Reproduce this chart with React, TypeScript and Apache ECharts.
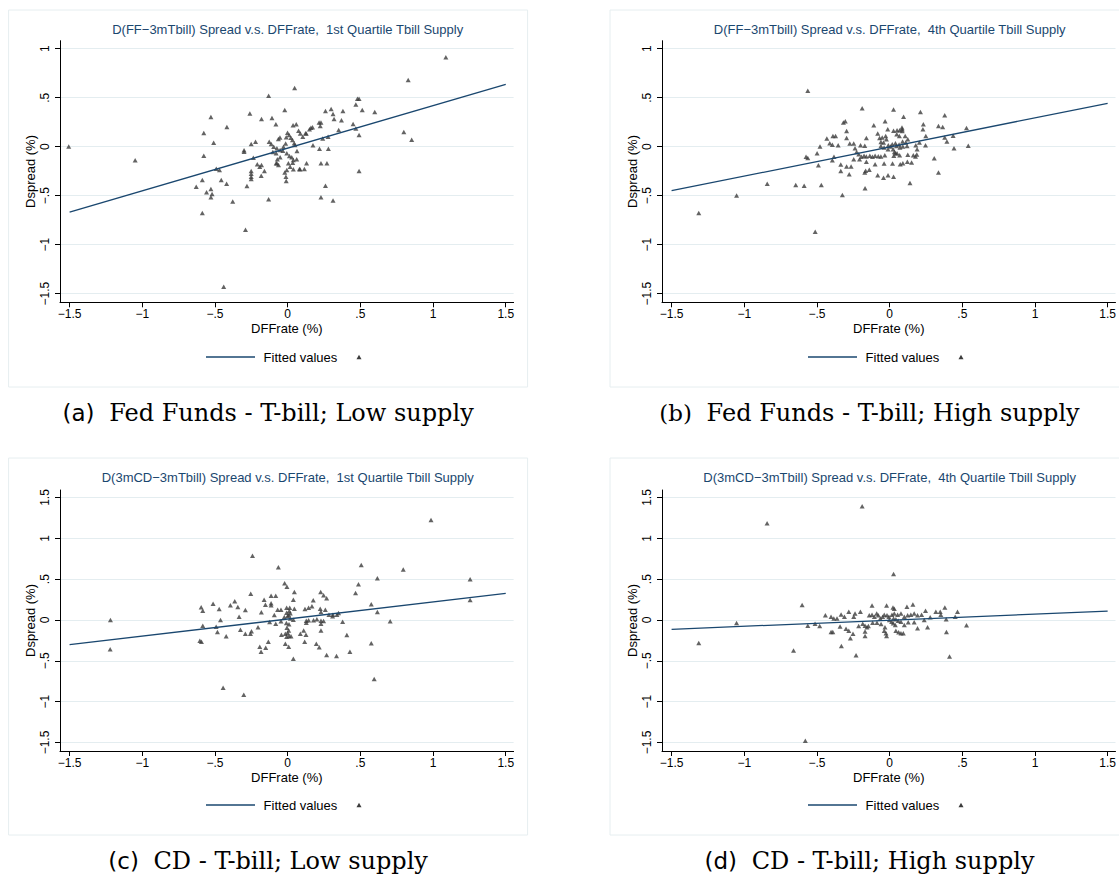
import React, { useEffect, useRef } from "react";
import * as echarts from "echarts";

// Tick positions shared by the four panels
const xTicks = [-1.5, -1, -0.5, 0, 0.5, 1, 1.5];
const yTicksFF = [-1.5, -1, -0.5, 0, 0.5, 1];
const yTicksCD = [-1.5, -1, -0.5, 0, 0.5, 1, 1.5];

const xAxisTitle = "DFFrate (%)";
const yAxisTitle = "Dspread (%)";
const legendLabel = "Fitted values";

const titles = [
  "D(FF\u22123mTbill) Spread v.s. DFFrate,  1st Quartile Tbill Supply",
  "D(FF\u22123mTbill) Spread v.s. DFFrate,  4th Quartile Tbill Supply",
  "D(3mCD\u22123mTbill) Spread v.s. DFFrate,  1st Quartile Tbill Supply",
  "D(3mCD\u22123mTbill) Spread v.s. DFFrate,  4th Quartile Tbill Supply",
];
const captionTags = ["(a)", "(b)", "(c)", "(d)"];
const captionTexts = [
  "Fed Funds - T-bill; Low supply",
  "Fed Funds - T-bill; High supply",
  "CD - T-bill; Low supply",
  "CD - T-bill; High supply",
];

// (a) Fed Funds - T-bill spread changes, low T-bill supply
const ffLowPoints: number[][] = [
  [1.088, 0.912], [0.829, 0.68], [0.048, 0.599], [-0.131, 0.52], [0.48, 0.49], [0.491, 0.49],
  [0.469, 0.432], [0.513, 0.374], [0.599, 0.354], [0.299, 0.384], [0.26, 0.364], [0.312, 0.333],
  [0.38, 0.364], [-0.02, 0.374], [-0.26, 0.34], [-0.528, 0.303], [-0.108, 0.293], [-0.18, 0.282],
  [0.319, 0.282], [0.37, 0.269], [-0.081, 0.228], [0.037, 0.218], [0.059, 0.228], [0.216, 0.248],
  [0.229, 0.248], [0.45, 0.231], [-0.418, 0.201], [0.224, 0.211], [0.16, 0.194], [0.15, 0.177],
  [0.469, 0.187], [0.351, 0.17], [-0.577, 0.139], [0.799, 0.15], [0.491, 0.119], [0.278, 0.102],
  [0.241, 0.085], [0.853, 0.071], [-0.509, 0.041], [-0.221, 0.051], [-0.251, 0.027], [-1.506, 0.003],
  [-0.3, -0.037], [-0.3, -0.051], [-0.577, -0.092], [-0.236, -0.112], [-1.049, -0.139], [0.28, -0.02],
  [0.219, -0.02], [0.174, 0.014], [-0.491, -0.224], [-0.469, -0.238], [-0.251, -0.248], [-0.251, -0.276],
  [-0.251, -0.306], [-0.251, -0.33], [-0.209, -0.18], [-0.192, -0.204], [-0.16, -0.248], [-0.18, -0.187],
  [-0.182, -0.296], [-0.079, -0.17], [-0.071, -0.129], [0.229, -0.17], [0.27, -0.17], [0.13, -0.17],
  [0.081, -0.228], [0.115, -0.228], [0.491, -0.248], [-0.457, -0.34], [-0.42, -0.378], [-0.587, -0.34],
  [-0.629, -0.408], [-0.28, -0.401], [0.26, -0.398], [-0.558, -0.466], [-0.528, -0.432], [-0.52, -0.483],
  [-0.528, -0.517], [-0.378, -0.558], [-0.131, -0.537], [0.229, -0.517], [0.312, -0.548], [-0.587, -0.677],
  [-0.29, -0.847], [-0.44, -1.429], [-0.012, -0.306], [-0.01, -0.35], [-0.02, -0.262],
  [-0.001, 0.143], [0.01, 0.119], [0.022, 0.092], [-0.01, 0.096], [0.033, 0.068], [0.045, 0.035],
  [0.104, 0.102], [0.123, 0.137], [0.171, 0.198], [-0.127, 0.051], [-0.113, 0.028], [-0.096, 0.0],
  [-0.074, -0.016], [-0.052, -0.034], [-0.029, 0.0], [-0.033, -0.041], [-0.079, -0.067], [-0.102, -0.054],
  [-0.006, -0.067], [0.012, -0.095], [0.028, -0.108], [0.039, -0.136], [0.062, -0.129], [0.035, -0.163],
  [0.005, -0.17], [0.017, -0.204], [0.039, -0.231], [-0.006, -0.238], [-0.052, -0.108], [-0.074, -0.17],
  [-0.063, -0.187], [0.085, -0.231], [0.075, 0.163], [0.087, 0.136], [0.128, 0.136], [-0.053, 0.095],
  [-0.064, 0.078], [-0.014, 0.034], [0.05, 0.017], [0.064, -0.044],
];
const ffLowFit = [[-1.5, -0.667], [1.5, 0.637]];

// (b) Fed Funds - T-bill spread changes, high T-bill supply
const ffHighPoints: number[][] = [
  [-0.563, 0.571], [0.529, 0.19], [0.541, 0.01], [-0.842, -0.378], [-1.053, -0.497], [-1.313, -0.677],
  [-0.512, -0.867], [-0.189, 0.392], [0.027, 0.381], [0.212, 0.354], [0.379, 0.32], [0.096, 0.307],
  [-0.031, 0.259], [-0.318, 0.246], [-0.305, 0.259], [-0.109, 0.219], [0.232, 0.229], [0.336, 0.212],
  [0.365, 0.202], [-0.296, 0.161], [-0.39, 0.11], [-0.372, 0.11], [-0.013, 0.178], [0.027, 0.164],
  [0.051, 0.168], [0.069, 0.168], [0.085, 0.195], [0.087, 0.178], [0.087, 0.161], [0.229, 0.178],
  [0.249, 0.11], [0.437, 0.113], [-0.082, 0.134], [-0.069, 0.09], [-0.051, 0.093], [-0.027, 0.11],
  [-0.432, 0.083], [-0.296, 0.09], [0.049, 0.127], [0.067, 0.11], [0.107, 0.11], [0.125, 0.076],
  [-0.16, 0.09], [-0.412, 0.036], [-0.394, 0.019], [-0.354, 0.015], [-0.274, 0.032], [-0.247, 0.032],
  [-0.479, 0.002], [-0.2, 0.015], [-0.171, 0.009], [-0.238, -0.015],
  [-0.06, 0.049], [-0.042, 0.042], [-0.022, 0.076], [-0.009, 0.015], [0.018, 0.025], [0.04, 0.036],
  [0.065, 0.022], [0.089, 0.053], [0.111, 0.042], [-0.06, 0.008], [-0.038, -0.008], [-0.011, -0.025],
  [0.007, 0.002], [0.024, -0.025], [0.047, 0.008], [0.071, -0.008], [0.091, 0.002], [0.12, 0.008],
  [0.18, 0.015], [0.189, -0.025], [0.205, 0.042], [0.247, 0.015], [0.379, 0.093], [0.394, 0.053],
  [0.443, -0.015], [-0.575, -0.103], [-0.563, -0.114], [-0.499, -0.066], [-0.383, -0.103],
  [-0.227, -0.053], [-0.212, -0.076], [-0.194, -0.103], [-0.176, -0.093], [-0.16, -0.1], [-0.136, -0.093],
  [-0.118, -0.103], [-0.1, -0.093], [-0.078, -0.097], [-0.06, -0.1], [-0.033, -0.086], [0.033, -0.053],
  [0.051, -0.066], [0.069, -0.086], [0.029, -0.093], [0.04, -0.066], [0.125, -0.083], [0.187, -0.08],
  [0.163, -0.086], [0.178, -0.1], [0.307, -0.117], [-0.49, -0.188], [-0.394, -0.137], [-0.247, -0.127],
  [-0.207, -0.127], [-0.16, -0.154], [-0.1, -0.178], [-0.038, -0.171], [0.02, -0.171], [0.073, -0.178],
  [0.091, -0.168], [0.122, -0.154], [0.151, -0.161], [-0.336, -0.181], [-0.296, -0.202], [-0.265, -0.202],
  [0.336, -0.263], [-0.336, -0.249], [-0.278, -0.28], [-0.171, -0.263], [-0.14, -0.236], [-0.165, -0.246],
  [-0.082, -0.29], [-0.042, -0.317], [-0.011, -0.29], [0.027, -0.307], [0.14, -0.371], [-0.646, -0.392],
  [-0.588, -0.398], [-0.47, -0.392], [-0.325, -0.494], [-0.169, -0.425],
];
const ffHighFit = [[-1.5, -0.449], [1.5, 0.443]];

// (c) CD - T-bill spread changes, low T-bill supply
const cdLowPoints: number[][] = [
  [0.986, 1.224], [0.795, 0.62], [1.255, 0.498], [0.617, 0.51], [0.575, 0.192], [1.255, 0.245],
  [0.617, 0.098], [0.705, -0.016], [-1.219, 0.0], [0.575, -0.286], [-1.221, -0.359], [0.595, -0.722],
  [-0.242, 0.788], [0.506, 0.673], [-0.064, 0.645], [-0.444, -0.829], [-0.302, -0.914],
  [-0.021, 0.449], [-0.005, 0.408], [0.487, 0.437], [0.046, 0.343], [-0.254, 0.322], [-0.114, 0.298],
  [-0.082, 0.298], [0.227, 0.343], [0.247, 0.302], [0.268, 0.265], [0.467, 0.331], [-0.513, 0.2],
  [-0.364, 0.229], [-0.595, 0.155], [-0.584, 0.114], [-0.394, 0.18], [-0.471, 0.135], [-0.343, 0.159],
  [-0.291, 0.122], [-0.162, 0.249], [-0.114, 0.204], [-0.114, 0.18], [-0.153, 0.188], [0.039, 0.249],
  [0.176, 0.241], [-0.181, 0.094], [-0.069, 0.127], [-0.046, 0.127], [-0.007, 0.151], [0.014, 0.151],
  [0.046, 0.139], [0.011, 0.11], [-0.007, 0.09], [0.018, 0.082], [0.0, 0.049], [0.007, 0.061],
  [0.119, 0.135], [0.144, 0.151], [0.167, 0.167], [0.224, 0.139], [0.259, 0.127], [0.229, 0.098],
  [-0.334, 0.041], [-0.462, 0.0], [-0.092, 0.061], [-0.023, 0.037], [0.018, 0.02], [0.039, 0.004],
  [0.128, -0.008], [0.144, -0.004], [0.178, -0.004], [0.128, -0.033], [0.201, 0.008], [0.229, -0.008],
  [0.247, -0.012], [0.229, -0.045], [0.284, 0.065], [0.311, 0.065], [0.309, 0.045], [0.339, 0.065],
  [0.35, 0.086], [0.378, -0.02], [-0.124, -0.024], [-0.082, -0.045], [-0.046, -0.016], [-0.584, -0.069],
  [-0.492, -0.082], [-0.009, -0.037], [0.009, -0.053], [-0.005, -0.094], [0.007, -0.127], [0.0, -0.159],
  [0.009, -0.196], [0.023, -0.2], [-0.007, -0.204], [-0.483, -0.147], [-0.423, -0.2], [-0.325, -0.118],
  [-0.291, -0.167], [-0.256, -0.167], [-0.249, -0.139], [-0.204, -0.09], [-0.043, -0.18], [-0.016, -0.167],
  [0.087, -0.167], [0.11, -0.127], [0.126, -0.18], [0.229, -0.127], [0.407, -0.184], [-0.604, -0.253],
  [-0.593, -0.265], [-0.133, -0.265], [-0.151, -0.339], [-0.192, -0.327], [-0.183, -0.388], [-0.016, -0.29],
  [0.007, -0.327], [0.117, -0.265], [0.197, -0.29], [0.217, -0.335], [0.039, -0.473], [0.268, -0.429],
  [0.336, -0.441], [0.428, -0.388],
];
const cdLowFit = [[-1.5, -0.302], [1.5, 0.326]];

// (d) CD - T-bill spread changes, high T-bill supply
const cdHighPoints: number[][] = [
  [-0.189, 1.392], [-0.843, 1.184], [0.027, 0.563], [-1.053, -0.037], [-1.313, -0.282], [-0.58, -1.478],
  [0.529, -0.065], [-0.602, 0.183], [0.412, -0.447], [-0.231, -0.431], [-0.661, -0.374],
  [-0.121, 0.179], [-0.021, 0.179], [0.023, 0.154], [0.032, 0.138], [0.119, 0.163], [0.16, 0.191],
  [0.38, 0.154], [0.467, 0.102], [0.451, 0.041], [-0.442, 0.057], [-0.403, 0.041], [-0.384, 0.02],
  [-0.362, 0.02], [-0.334, 0.069], [-0.311, 0.041], [-0.281, 0.102], [-0.238, 0.081], [-0.201, 0.102],
  [-0.247, 0.041], [-0.14, 0.057], [-0.121, 0.065], [-0.105, 0.041], [-0.089, 0.081], [-0.078, 0.057],
  [-0.064, 0.02], [-0.048, 0.041], [-0.037, 0.065], [-0.018, 0.057], [-0.005, 0.041], [0.016, 0.065],
  [0.032, 0.081], [0.055, 0.065], [0.078, 0.081], [0.101, 0.041], [0.124, 0.057], [0.146, 0.065],
  [0.169, 0.081], [0.192, 0.057], [0.22, 0.065], [0.247, 0.114], [0.279, 0.033], [0.318, 0.102],
  [0.348, 0.102], [0.352, 0.065], [0.389, 0.008], [-0.563, -0.069], [-0.513, -0.045], [-0.481, -0.073],
  [-0.403, -0.146], [-0.391, -0.146], [-0.341, -0.081], [-0.3, -0.106], [-0.281, -0.13], [-0.252, -0.167],
  [-0.27, -0.224], [-0.332, -0.317], [-0.213, -0.073], [-0.185, -0.045], [-0.169, -0.069], [-0.156, -0.089],
  [-0.169, -0.142], [-0.169, -0.195], [-0.146, -0.073], [-0.117, -0.033], [-0.087, -0.033], [-0.059, -0.049],
  [-0.032, -0.089], [-0.037, -0.13], [-0.025, -0.163], [-0.021, -0.195], [0.014, -0.02], [0.025, -0.041],
  [0.039, -0.061], [0.043, -0.13], [0.062, -0.15], [0.078, -0.163], [0.094, -0.163], [0.101, -0.061],
  [0.128, -0.028], [0.169, -0.028], [0.192, -0.102], [0.238, 0.0], [0.261, -0.089], [0.391, -0.146],
  [0.027, 0.02], [0.043, 0.008], [0.059, -0.008], [-0.002, 0.0], [0.078, -0.02],
];
const cdHighFit = [[-1.5, -0.114], [1.5, 0.11]];

const pointSets = [ffLowPoints, ffHighPoints, cdLowPoints, cdHighPoints];
const fitSets = [ffLowFit, ffHighFit, cdLowFit, cdHighFit];
const yTickSets = [yTicksFF, yTicksFF, yTicksCD, yTicksCD];
// Axis extents (Stata pads the range slightly past the outer ticks)
const xRange = [-1.566, 1.554];
const yRanges = [[-1.588, 1.082], [-1.588, 1.082], [-1.604, 1.592], [-1.604, 1.592]];

// Layout of the four panels (pixels)
const panelLeft = [8.6, 610, 8.6, 610];
const panelTop = [10, 10, 458, 458];
const panelW = 519;
const panelH = 377;
const gridLeft = [60, 662, 60, 662];
const gridTop = [40.7, 40.7, 490, 490];
const gridW = 453.6;
const gridH = [261.6, 261.6, 261, 261];

const NAVY = "#1a476f";
const SANS = "'Liberation Sans', Arial, sans-serif";

const fmtTick = (v: number) => {
  let s = String(Math.round(Math.abs(v) * 100) / 100);
  if (s.startsWith("0.")) s = s.slice(1);
  return (v < 0 ? "\u2212" : "") + s;
};

export default function App() {
  const ref = useRef<HTMLDivElement>(null);

  useEffect(() => {
    if (!ref.current) return;
    const chart = echarts.init(ref.current, undefined, { renderer: "svg" });

    const grids: any[] = [];
    const xAxes: any[] = [];
    const yAxes: any[] = [];
    const series: any[] = [];
    const graphics: any[] = [];

    for (let i = 0; i < 4; i++) {
      grids.push({ left: gridLeft[i], top: gridTop[i], width: gridW, height: gridH[i], containLabel: false });
      xAxes.push({
        gridIndex: i,
        type: "value",
        min: xRange[0],
        max: xRange[1],
        axisLine: { show: true, onZero: false, lineStyle: { color: "#000", width: 1 } },
        axisTick: { show: true, length: 5, customValues: xTicks, lineStyle: { color: "#000", width: 1 } },
        axisLabel: { customValues: xTicks, formatter: fmtTick, margin: 6, color: "#000", fontSize: 12, fontFamily: SANS },
        splitLine: { show: false },
        name: xAxisTitle,
        nameLocation: "middle",
        nameGap: 20,
        nameTextStyle: { color: "#000", fontSize: 13, fontFamily: SANS },
      });
      yAxes.push({
        gridIndex: i,
        type: "value",
        min: yRanges[i][0],
        max: yRanges[i][1],
        axisLine: { show: true, onZero: false, lineStyle: { color: "#000", width: 1 } },
        axisTick: { show: true, length: 5, customValues: yTickSets[i], lineStyle: { color: "#000", width: 1 } },
        axisLabel: { customValues: yTickSets[i], formatter: fmtTick, rotate: 90, margin: 9, color: "#000", fontSize: 12, fontFamily: SANS },
        splitLine: { show: true, lineStyle: { color: "#e4edf0", width: 1 } },
        name: yAxisTitle,
        nameLocation: "middle",
        nameGap: 23,
        nameTextStyle: { color: "#000", fontSize: 13, fontFamily: SANS },
      });
      series.push({
        type: "line",
        xAxisIndex: i,
        yAxisIndex: i,
        data: fitSets[i],
        symbol: "none",
        lineStyle: { color: NAVY, width: 1.3 },
        silent: true,
        z: 3,
      });
      series.push({
        type: "scatter",
        xAxisIndex: i,
        yAxisIndex: i,
        data: pointSets[i],
        symbol: "triangle",
        symbolSize: [5, 4.5],
        itemStyle: { color: "#3c3c3c" },
        silent: true,
        z: 2,
      });

      const cx = panelLeft[i] + panelW / 2;
      const gx = gridLeft[i] + gridW * (0 - xRange[0]) / (xRange[1] - xRange[0]);
      // panel frame
      graphics.push({
        type: "rect",
        shape: { x: panelLeft[i], y: panelTop[i], width: panelW, height: panelH },
        style: { fill: "none", stroke: "#e6eef0", lineWidth: 1 },
        silent: true,
        z: -1,
      });
      // panel title
      graphics.push({
        type: "text",
        x: gx,
        y: panelTop[i] + 19,
        style: { text: titles[i], fill: NAVY, font: `13px ${SANS}`, align: "center", verticalAlign: "middle" },
        silent: true,
      });
      // legend
      const ly = panelTop[i] + 347;
      const lx = gridLeft[i] + 146;
      graphics.push({
        type: "line",
        shape: { x1: lx, y1: ly, x2: lx + 49, y2: ly },
        style: { stroke: NAVY, lineWidth: 1.3 },
        silent: true,
      });
      graphics.push({
        type: "text",
        x: lx + 57.6,
        y: ly,
        style: { text: legendLabel, fill: "#000", font: `13px ${SANS}`, align: "left", verticalAlign: "middle" },
        silent: true,
      });
      graphics.push({
        type: "polygon",
        shape: { points: [[lx + 153, ly - 2.3], [lx + 155.5, ly + 2.2], [lx + 150.5, ly + 2.2]] },
        style: { fill: "#3c3c3c" },
        silent: true,
      });
      // caption under the panel
      graphics.push({
        type: "text",
        x: cx,
        y: panelTop[i] + 403,
        style: {
          text: `{t|${captionTags[i]}  }{c|${captionTexts[i]}}`,
          align: "center",
          verticalAlign: "middle",
          rich: {
            t: { fontFamily: i === 1 ? "'DejaVu Serif', serif" : "'DejaVu Sans', sans-serif", fontSize: 23, fill: "#000" },
            c: { fontFamily: "'DejaVu Serif', serif", fontSize: 24, fill: "#000" },
          },
        },
        silent: true,
      });
    }

    chart.setOption({
      animation: false,
      backgroundColor: "#fff",
      grid: grids,
      xAxis: xAxes,
      yAxis: yAxes,
      series,
      graphic: graphics,
    });

    return () => chart.dispose();
  }, []);

  return (
    <div
      ref={ref}
      style={{ position: "absolute", left: 0, top: 0, width: 1119, height: 877, background: "#fff" }}
    />
  );
}
